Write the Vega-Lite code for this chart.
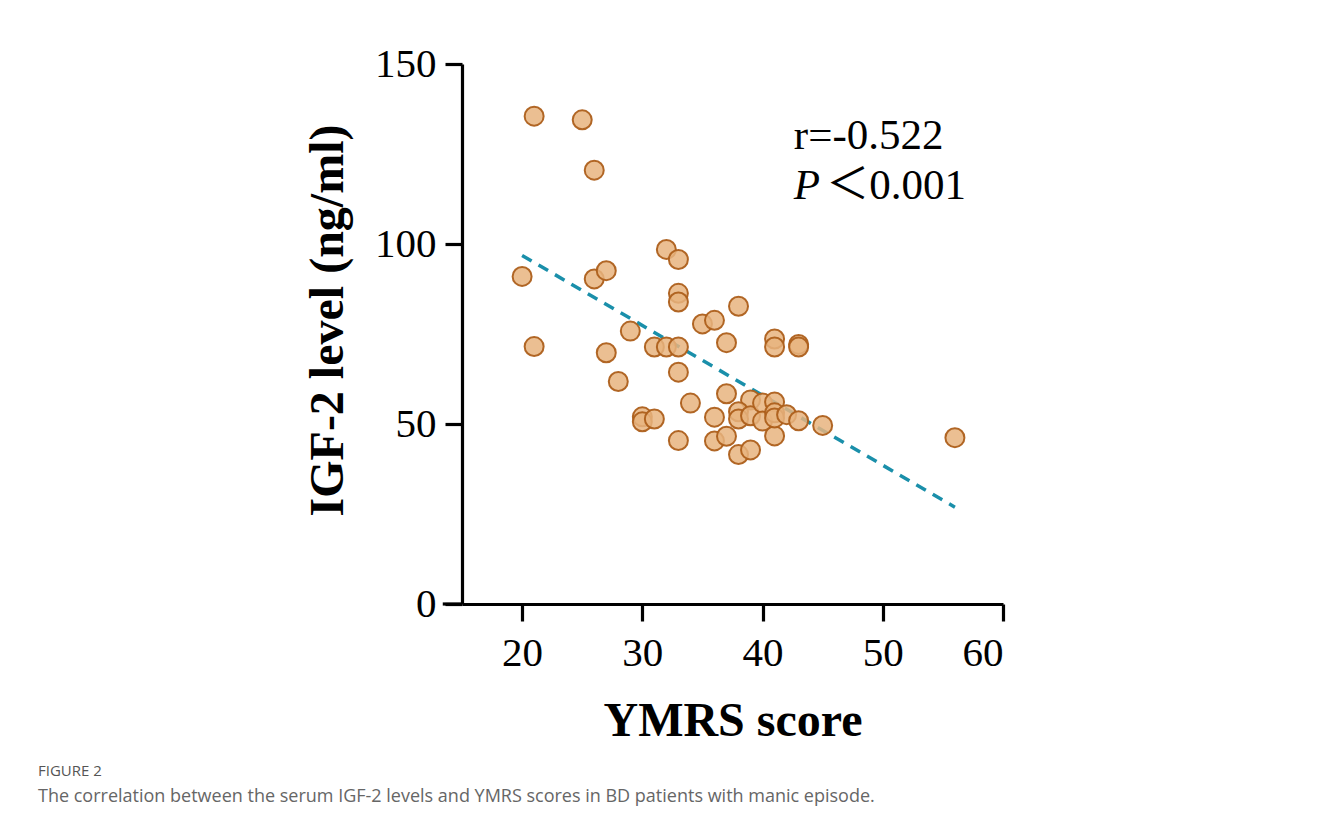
{
  "$schema": "https://vega.github.io/schema/vega-lite/v6.json",
  "autosize": "none",
  "width": 541,
  "height": 540,
  "padding": {"left": 462, "top": 64, "right": 316, "bottom": 222},
  "background": "white",
  "config": {"view": {"stroke": null}},
  "title": {
    "text": "FIGURE 2",
    "subtitle": "The correlation between the serum IGF-2 levels and YMRS scores in BD patients with manic episode.",
    "orient": "bottom",
    "anchor": "start",
    "frame": "group",
    "dx": -424,
    "offset": 19,
    "font": "Open Sans",
    "fontSize": 15,
    "fontWeight": "normal",
    "color": "#555555",
    "subtitleFont": "Open Sans",
    "subtitleFontSize": 18,
    "subtitleColor": "#666666",
    "subtitlePadding": 9
  },
  "datasets": {
    "pts": [
      {"ymrs": 21, "igf2": 135.5}, {"ymrs": 25, "igf2": 134.5}, {"ymrs": 26, "igf2": 120.5},
      {"ymrs": 20, "igf2": 91}, {"ymrs": 21, "igf2": 71.5}, {"ymrs": 26, "igf2": 90.3},
      {"ymrs": 27, "igf2": 92.6}, {"ymrs": 27, "igf2": 69.8}, {"ymrs": 28, "igf2": 61.8},
      {"ymrs": 29, "igf2": 75.8}, {"ymrs": 30, "igf2": 52}, {"ymrs": 30, "igf2": 50.6},
      {"ymrs": 31, "igf2": 51.4}, {"ymrs": 31, "igf2": 71.4}, {"ymrs": 32, "igf2": 71.4},
      {"ymrs": 33, "igf2": 71.4}, {"ymrs": 32, "igf2": 98.5}, {"ymrs": 33, "igf2": 95.7},
      {"ymrs": 33, "igf2": 86.3}, {"ymrs": 33, "igf2": 83.9}, {"ymrs": 33, "igf2": 64.4},
      {"ymrs": 33, "igf2": 45.4}, {"ymrs": 34, "igf2": 55.8}, {"ymrs": 35, "igf2": 77.8},
      {"ymrs": 36, "igf2": 78.8}, {"ymrs": 37, "igf2": 72.6}, {"ymrs": 38, "igf2": 82.7},
      {"ymrs": 41, "igf2": 73.6}, {"ymrs": 41, "igf2": 71.4}, {"ymrs": 43, "igf2": 72.1},
      {"ymrs": 43, "igf2": 71.4}, {"ymrs": 36, "igf2": 51.9}, {"ymrs": 37, "igf2": 58.4},
      {"ymrs": 36, "igf2": 45.3}, {"ymrs": 37, "igf2": 46.6}, {"ymrs": 38, "igf2": 41.5},
      {"ymrs": 39, "igf2": 42.8}, {"ymrs": 45, "igf2": 49.6}, {"ymrs": 41, "igf2": 46.7},
      {"ymrs": 56, "igf2": 46.2}, {"ymrs": 39, "igf2": 56.7}, {"ymrs": 38, "igf2": 53.4},
      {"ymrs": 38, "igf2": 51.4}, {"ymrs": 39, "igf2": 52.3}, {"ymrs": 40, "igf2": 55.8},
      {"ymrs": 41, "igf2": 56.1}, {"ymrs": 40, "igf2": 50.8}, {"ymrs": 41, "igf2": 53.1},
      {"ymrs": 41, "igf2": 51.7}, {"ymrs": 42, "igf2": 52.6}, {"ymrs": 43, "igf2": 50.9}
    ],
    "fit": [
      {"ymrs": 20, "igf2": 96.8},
      {"ymrs": 56, "igf2": 26.9}
    ],
    "one": [{}]
  },
  "layer": [
    {
      "data": {"name": "fit"},
      "mark": {"type": "line", "color": "#1A8FAA", "strokeWidth": 3.5, "strokeDash": [11, 8]},
      "encoding": {
        "x": {
          "field": "ymrs", "type": "quantitative",
          "scale": {"domain": [15, 60], "nice": false, "zero": false},
          "axis": {
            "title": "YMRS score",
            "values": [20, 30, 40, 50, 60],
            "grid": false,
            "domainColor": "black", "domainWidth": 3.2,
            "tickColor": "black", "tickWidth": 3.2, "tickSize": 17,
            "labelFont": "Liberation Serif", "labelFontSize": 41, "labelColor": "black",
            "labelPadding": 12,
            "titleFont": "Liberation Serif", "titleFontSize": 48, "titleFontWeight": "bold",
            "titleColor": "black", "titlePadding": 24
          }
        },
        "y": {
          "field": "igf2", "type": "quantitative",
          "scale": {"domain": [0, 150], "nice": false},
          "axis": {
            "title": "IGF-2 level (ng/ml)",
            "values": [0, 50, 100, 150],
            "grid": false,
            "domainColor": "black", "domainWidth": 3.2,
            "tickColor": "black", "tickWidth": 3.2, "tickSize": 17,
            "labelFont": "Liberation Serif", "labelFontSize": 41, "labelColor": "black",
            "labelPadding": 9,
            "titleFont": "Liberation Serif", "titleFontSize": 48, "titleFontWeight": "bold",
            "titleColor": "black", "titlePadding": 22, "titleY": 256
          }
        }
      }
    },
    {
      "data": {"name": "pts"},
      "mark": {"type": "point", "shape": "circle", "filled": true, "size": 361,
               "fill": "#E8B47F", "fillOpacity": 0.85, "stroke": "#AD5F1B", "strokeWidth": 2, "strokeOpacity": 0.95},
      "encoding": {
        "x": {"field": "ymrs", "type": "quantitative"},
        "y": {"field": "igf2", "type": "quantitative"}
      }
    },
    {
      "data": {"name": "one"},
      "mark": {"type": "rule", "color": "black", "strokeWidth": 3.2, "clip": false},
      "encoding": {
        "x": {"datum": 13.4, "type": "quantitative"},
        "x2": {"datum": 15},
        "y": {"datum": 0, "type": "quantitative"}
      }
    },
    {
      "data": {"name": "one"},
      "mark": {"type": "text", "text": "r=-0.522", "font": "Liberation Serif", "fontSize": 43,
               "align": "left", "baseline": "alphabetic", "color": "black"},
      "encoding": {
        "x": {"datum": 42.6, "type": "quantitative"},
        "y": {"datum": 126.5, "type": "quantitative"}
      }
    },
    {
      "data": {"name": "one"},
      "mark": {"type": "text", "text": "P", "font": "Liberation Serif", "fontSize": 43, "fontStyle": "italic",
               "align": "left", "baseline": "alphabetic", "color": "black"},
      "encoding": {
        "x": {"datum": 42.6, "type": "quantitative"},
        "y": {"datum": 112.5, "type": "quantitative"}
      }
    },
    {
      "data": {"name": "one"},
      "mark": {"type": "text", "text": "＜0.001", "font": "Liberation Serif, Noto Sans CJK SC", "fontSize": 43,
               "align": "left", "baseline": "alphabetic", "color": "black"},
      "encoding": {
        "x": {"datum": 45.3, "type": "quantitative"},
        "y": {"datum": 112.5, "type": "quantitative"}
      }
    }
  ]
}
